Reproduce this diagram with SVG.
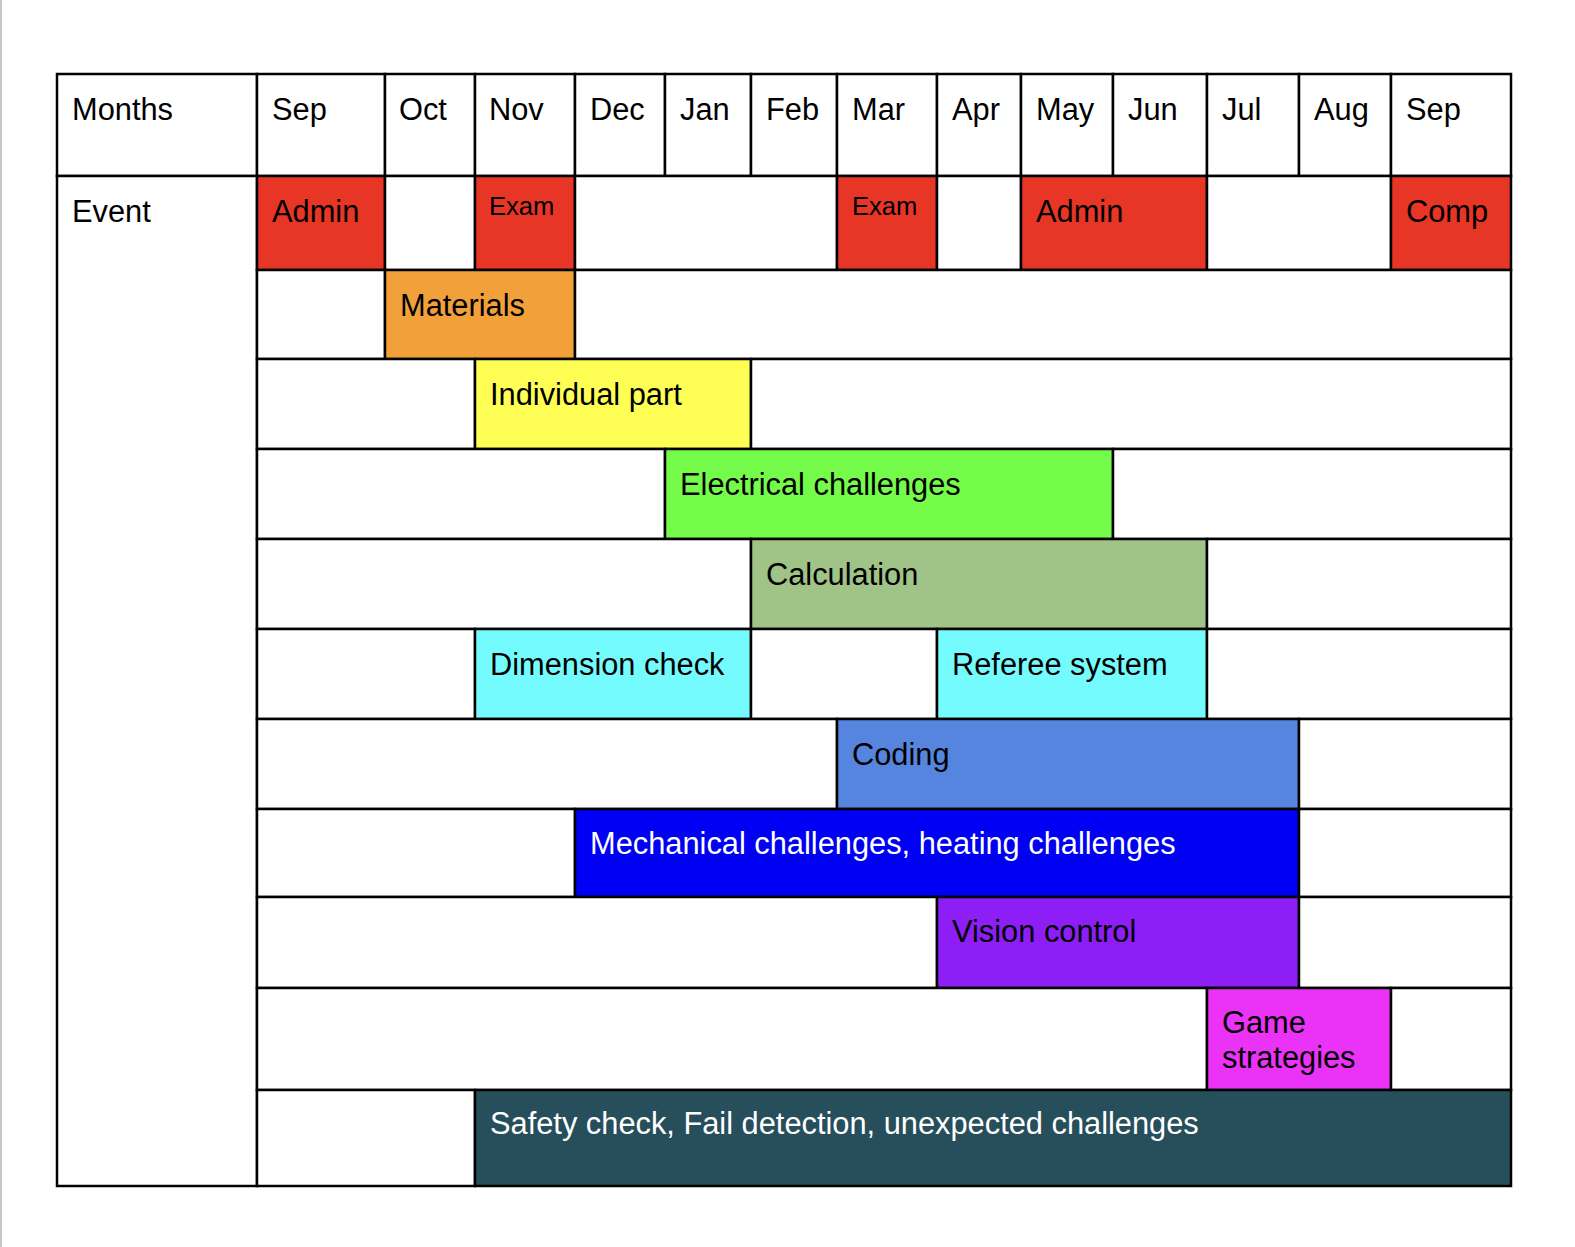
<svg xmlns="http://www.w3.org/2000/svg" width="1575" height="1247" viewBox="0 0 1575 1247">
<style>
.c{stroke:#000;stroke-width:2.5;fill:#fff}
.t{font-family:"Liberation Sans",Arial,sans-serif;font-size:30.8px;fill:#000}
.s{font-family:"Liberation Sans",Arial,sans-serif;font-size:25.6px;fill:#000}
.w{fill:#fff}
.red{fill:#e73526}.org{fill:#f1a03a}.yel{fill:#fffe54}.grn{fill:#75fb4a}.cal{fill:#a0c387}.cyn{fill:#74fbfd}.cod{fill:#5685e0}.blu{fill:#0000f5}.vis{fill:#8d1ef5}.gam{fill:#ea33f7}.saf{fill:#264e5b}
</style>
<rect x="0" y="0" width="1575" height="1247" fill="#fff"/>
<rect x="0" y="0" width="2" height="1247" fill="#c8c8c8"/>
<g id="header">
<g id="h-months"><rect class="c" x="57" y="74" width="200" height="102"/><text class="t" x="72" y="120">Months</text></g>
<g id="h-sep1"><rect class="c" x="257" y="74" width="128" height="102"/><text class="t" x="272" y="120">Sep</text></g>
<g id="h-oct"><rect class="c" x="385" y="74" width="90" height="102"/><text class="t" x="399" y="120">Oct</text></g>
<g id="h-nov"><rect class="c" x="475" y="74" width="100" height="102"/><text class="t" x="489" y="120">Nov</text></g>
<g id="h-dec"><rect class="c" x="575" y="74" width="90" height="102"/><text class="t" x="590" y="120">Dec</text></g>
<g id="h-jan"><rect class="c" x="665" y="74" width="86" height="102"/><text class="t" x="680" y="120">Jan</text></g>
<g id="h-feb"><rect class="c" x="751" y="74" width="86" height="102"/><text class="t" x="766" y="120">Feb</text></g>
<g id="h-mar"><rect class="c" x="837" y="74" width="100" height="102"/><text class="t" x="852" y="120">Mar</text></g>
<g id="h-apr"><rect class="c" x="937" y="74" width="84" height="102"/><text class="t" x="952" y="120">Apr</text></g>
<g id="h-may"><rect class="c" x="1021" y="74" width="92" height="102"/><text class="t" x="1036" y="120">May</text></g>
<g id="h-jun"><rect class="c" x="1113" y="74" width="94" height="102"/><text class="t" x="1128" y="120">Jun</text></g>
<g id="h-jul"><rect class="c" x="1207" y="74" width="92" height="102"/><text class="t" x="1222" y="120">Jul</text></g>
<g id="h-aug"><rect class="c" x="1299" y="74" width="92" height="102"/><text class="t" x="1314" y="120">Aug</text></g>
<g id="h-sep2"><rect class="c" x="1391" y="74" width="120" height="102"/><text class="t" x="1406" y="120">Sep</text></g>
</g>
<g id="event-label"><rect class="c" x="57" y="176" width="200" height="1010"/><text class="t" x="72" y="222">Event</text></g>
<g id="row1">
<g id="admin1"><rect class="c red" x="257" y="176" width="128" height="94"/><text class="t" x="272" y="222">Admin</text></g>
<rect class="c" x="385" y="176" width="90" height="94"/>
<g id="exam1"><rect class="c red" x="475" y="176" width="100" height="94"/><text class="s" x="489" y="215">Exam</text></g>
<rect class="c" x="575" y="176" width="262" height="94"/>
<g id="exam2"><rect class="c red" x="837" y="176" width="100" height="94"/><text class="s" x="852" y="215">Exam</text></g>
<rect class="c" x="937" y="176" width="84" height="94"/>
<g id="admin2"><rect class="c red" x="1021" y="176" width="186" height="94"/><text class="t" x="1036" y="222">Admin</text></g>
<rect class="c" x="1207" y="176" width="184" height="94"/>
<g id="comp"><rect class="c red" x="1391" y="176" width="120" height="94"/><text class="t" x="1406" y="222">Comp</text></g>
</g>
<g id="row2">
<rect class="c" x="257" y="270" width="128" height="89"/>
<g id="materials"><rect class="c org" x="385" y="270" width="190" height="89"/><text class="t" x="400" y="316">Materials</text></g>
<rect class="c" x="575" y="270" width="936" height="89"/>
</g>
<g id="row3">
<rect class="c" x="257" y="359" width="218" height="90"/>
<g id="individual"><rect class="c yel" x="475" y="359" width="276" height="90"/><text class="t" x="490" y="405">Individual part</text></g>
<rect class="c" x="751" y="359" width="760" height="90"/>
</g>
<g id="row4">
<rect class="c" x="257" y="449" width="408" height="90"/>
<g id="electrical"><rect class="c grn" x="665" y="449" width="448" height="90"/><text class="t" x="680" y="495">Electrical challenges</text></g>
<rect class="c" x="1113" y="449" width="398" height="90"/>
</g>
<g id="row5">
<rect class="c" x="257" y="539" width="494" height="90"/>
<g id="calculation"><rect class="c cal" x="751" y="539" width="456" height="90"/><text class="t" x="766" y="585">Calculation</text></g>
<rect class="c" x="1207" y="539" width="304" height="90"/>
</g>
<g id="row6">
<rect class="c" x="257" y="629" width="218" height="90"/>
<g id="dimension"><rect class="c cyn" x="475" y="629" width="276" height="90"/><text class="t" x="490" y="675">Dimension check</text></g>
<rect class="c" x="751" y="629" width="186" height="90"/>
<g id="referee"><rect class="c cyn" x="937" y="629" width="270" height="90"/><text class="t" x="952" y="675">Referee system</text></g>
<rect class="c" x="1207" y="629" width="304" height="90"/>
</g>
<g id="row7">
<rect class="c" x="257" y="719" width="580" height="90"/>
<g id="coding"><rect class="c cod" x="837" y="719" width="462" height="90"/><text class="t" x="852" y="765">Coding</text></g>
<rect class="c" x="1299" y="719" width="212" height="90"/>
</g>
<g id="row8">
<rect class="c" x="257" y="809" width="318" height="88"/>
<g id="mechanical"><rect class="c blu" x="575" y="809" width="724" height="88"/><text class="t w" x="590" y="854">Mechanical challenges, heating challenges</text></g>
<rect class="c" x="1299" y="809" width="212" height="88"/>
</g>
<g id="row9">
<rect class="c" x="257" y="897" width="680" height="91"/>
<g id="vision"><rect class="c vis" x="937" y="897" width="362" height="91"/><text class="t" x="952" y="942">Vision control</text></g>
<rect class="c" x="1299" y="897" width="212" height="91"/>
</g>
<g id="row10">
<rect class="c" x="257" y="988" width="950" height="102"/>
<g id="game"><rect class="c gam" x="1207" y="988" width="184" height="102"/><text class="t" x="1222" y="1033">Game</text><text class="t" x="1222" y="1068">strategies</text></g>
<rect class="c" x="1391" y="988" width="120" height="102"/>
</g>
<g id="row11">
<rect class="c" x="257" y="1090" width="218" height="96"/>
<g id="safety"><rect class="c saf" x="475" y="1090" width="1036" height="96"/><text class="t w" x="490" y="1134">Safety check, Fail detection, unexpected challenges</text></g>
</g>
<g id="connectors"/>
</svg>
